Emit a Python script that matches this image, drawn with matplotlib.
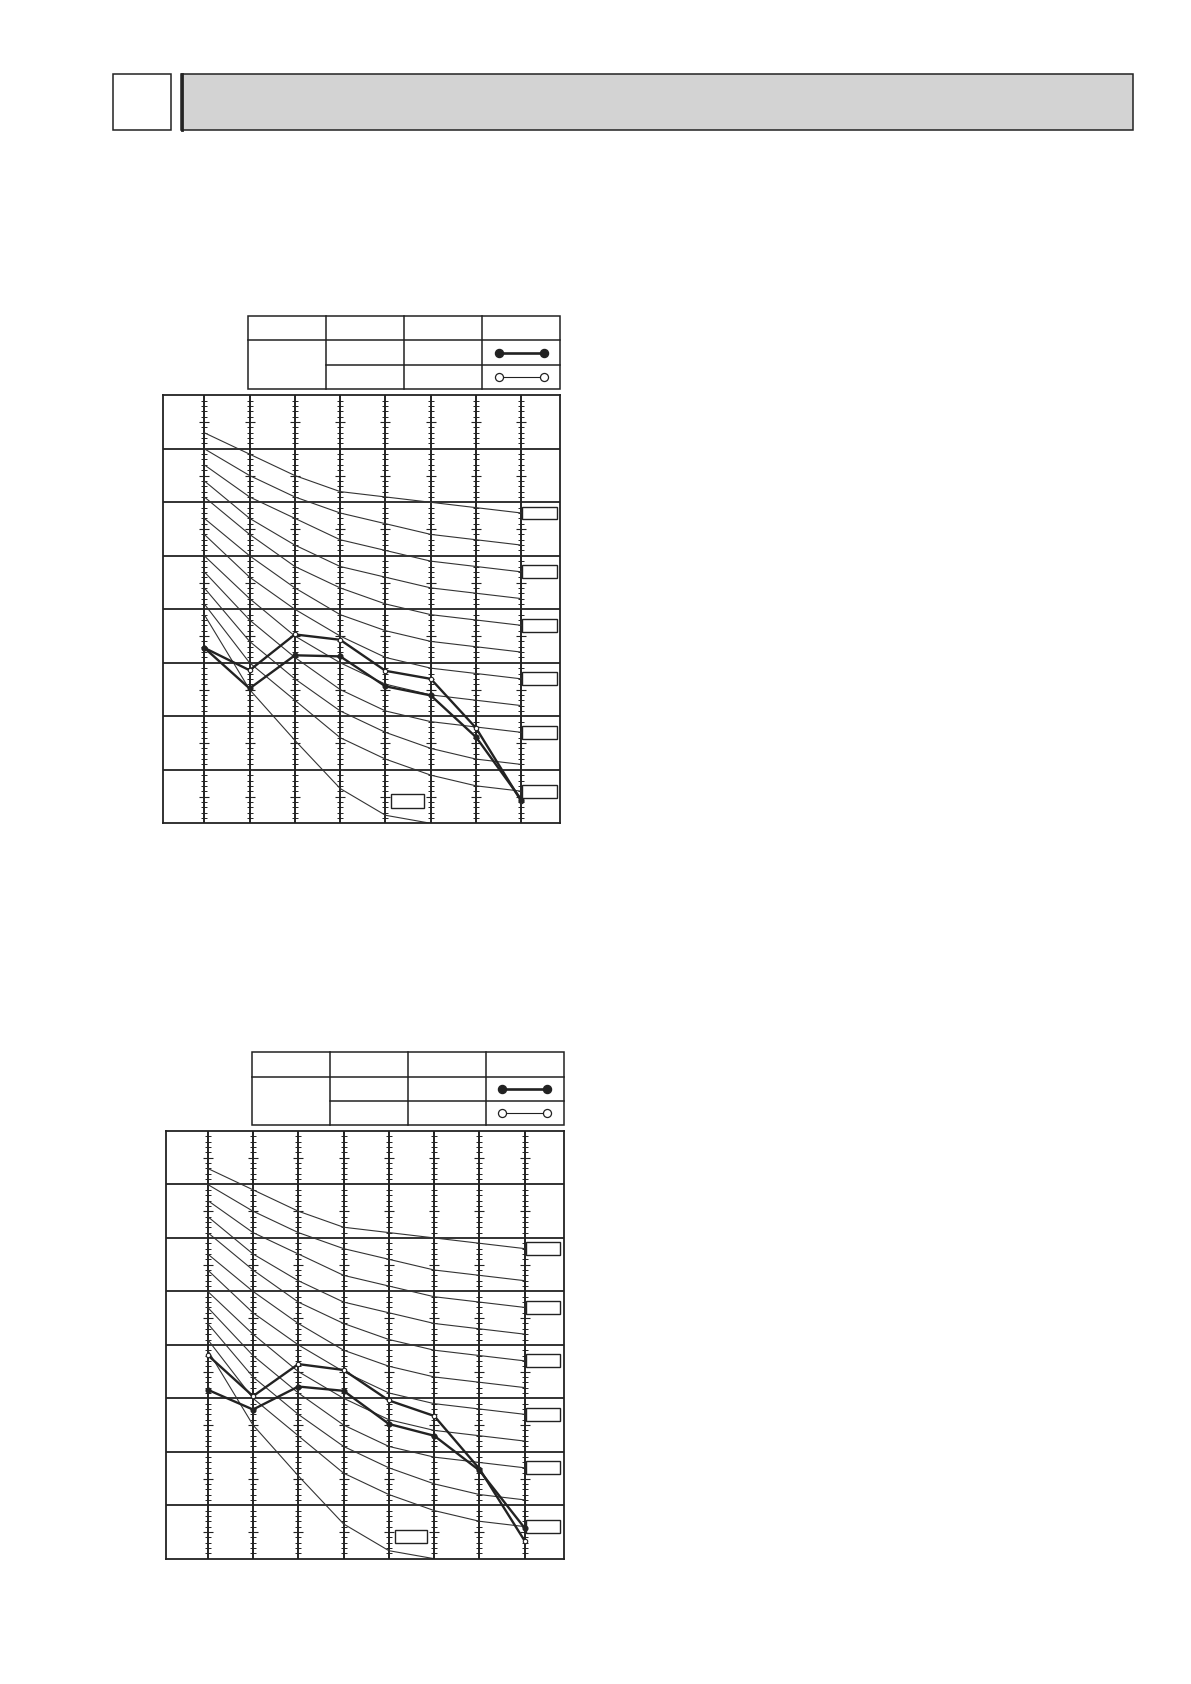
import matplotlib
matplotlib.use('Agg')
import matplotlib.pyplot as plt
from matplotlib.patches import Rectangle

W, H = 1191, 1684
ink = '#222222'

# octave bands (Hz)
bands = ['63', '125', '250', '500', '1k', '2k', '4k', '8k']

# NC reference curves, dB per band
nc_70 = [83, 79, 75, 72, 71, 70, 69, 68]
nc_65 = [80, 75, 71, 68, 66, 64, 63, 62]
nc_60 = [77, 71, 67, 63, 61, 59, 58, 57]
nc_55 = [74, 67, 62, 58, 56, 54, 53, 52]
nc_50 = [71, 64, 58, 54, 51, 49, 48, 47]
nc_45 = [67, 60, 54, 49, 46, 44, 43, 42]
nc_40 = [64, 56, 50, 45, 41, 39, 38, 37]
nc_35 = [60, 52, 45, 40, 36, 34, 33, 32]
nc_30 = [57, 48, 41, 35, 31, 29, 28, 27]
nc_25 = [54, 44, 37, 31, 27, 24, 22, 21]
nc_20 = [51, 40, 33, 26, 22, 19, 17, 16]
# approximate threshold of hearing (63..2k)
threshold = [49, 35, 25.5, 16.5, 11.5, 10]

nc_curves = [nc_70, nc_65, nc_60, nc_55, nc_50, nc_45,
             nc_40, nc_35, nc_30, nc_25, nc_20]
boxed = [nc_70, nc_60, nc_50, nc_40, nc_30, nc_20]

# measured levels
top_open = [42.8, 38.6, 45.3, 44.3, 38.5, 37.0, 27.8, 14.1]
top_filled = [42.8, 35.2, 41.4, 41.2, 35.6, 33.9, 26.1, 14.4]
bot_open = [48.1, 40.4, 46.4, 45.3, 39.6, 36.7, 26.8, 13.3]
bot_filled = [41.6, 37.9, 42.2, 41.4, 35.2, 33.0, 26.5, 15.7]


def px_rect(l, t, r, b):
    return [l / W, 1 - b / H, (r - l) / W, (b - t) / H]


def draw_chart(ax, xleft, open_vals, filled_vals):
    x = list(range(len(bands)))
    ax.set_xlim(xleft, 7.859)
    ax.set_ylim(10, 90)
    ax.set_xticks([])
    ax.set_yticks([])
    for s in ax.spines.values():
        s.set_linewidth(1.3)
        s.set_color(ink)
    for v in range(20, 90, 10):
        ax.axhline(v, color=ink, lw=1.3, zorder=1)
    small = [d for d in range(11, 90) if d % 5]
    big = [d for d in range(15, 90, 10)]
    for i in x:
        ax.axvline(i, color=ink, lw=1.4, zorder=1)
        ax.plot([i] * len(small), small, ls='none', marker='_', ms=3.8,
                mew=0.7, color=ink, zorder=1)
        ax.plot([i] * len(big), big, ls='none', marker='_', ms=7,
                mew=0.8, color=ink, zorder=1)
    for c in nc_curves:
        ax.plot(x, c, color='#333333', lw=0.8, zorder=2)
    ax.plot(x[:len(threshold)], threshold, color='#333333', lw=0.8, zorder=2)
    for c in boxed:
        ax.add_patch(Rectangle((7.02, c[-1] - 1.2), 0.76, 2.4, fc='white',
                               ec=ink, lw=1.0, zorder=3))
    ax.add_patch(Rectangle((4.13, 12.9), 0.72, 2.5, fc='white',
                           ec=ink, lw=1.0, zorder=3))
    ax.plot(x, open_vals, '-o', color=ink, lw=1.7, ms=3.2, mfc='white',
            mec=ink, mew=0.8, zorder=4)
    ax.plot(x, filled_vals, '-o', color=ink, lw=1.7, ms=3.4, mfc=ink,
            mec=ink, zorder=4)


def draw_table(ax, left, top, right, row_h):
    col_w = (right - left) / 4
    cols = [left + k * col_w for k in range(5)]
    bottom = top + 3 * row_h
    ax.add_patch(Rectangle((left, top), right - left, bottom - top,
                           fc='none', ec=ink, lw=1.1))
    ax.plot([left, right], [top + row_h] * 2, color=ink, lw=1.1)
    ax.plot([cols[1], right], [top + 2 * row_h] * 2, color=ink, lw=1.1)
    for c in cols[1:4]:
        ax.plot([c, c], [top, bottom], color=ink, lw=1.1)
    cx = cols[3] + col_w / 2
    y1 = top + 1.5 * row_h
    y2 = top + 2.5 * row_h
    ax.plot([cx - 22.6, cx + 22.6], [y1, y1], '-o', color=ink, lw=1.9,
            ms=5.8, mfc=ink, mec=ink)
    ax.plot([cx - 22.6, cx + 22.6], [y2, y2], '-o', color=ink, lw=0.8,
            ms=5.8, mfc='white', mec=ink, mew=0.9)


fig = plt.figure(figsize=(W / 100, H / 100), dpi=100)

page = fig.add_axes([0, 0, 1, 1])
page.set_xlim(0, W)
page.set_ylim(H, 0)
page.axis('off')

# header
page.add_patch(Rectangle((113.3, 74.3), 57.4, 56, fc='white', ec=ink, lw=1.1))
page.add_patch(Rectangle((181.3, 74.3), 952, 55.4, fc='#d3d3d3', ec=ink, lw=1.1))
page.plot([181.8, 181.8], [74.3, 129.7], color=ink, lw=2.0)

draw_table(page, 248.3, 316, 560.3, 24.4)
draw_table(page, 252.3, 1052.3, 563.7, 24.3)

ax1 = fig.add_axes(px_rect(163.3, 395.3, 560.3, 823.3))
draw_chart(ax1, -0.905, top_open, top_filled)

ax2 = fig.add_axes(px_rect(166.3, 1131, 563.7, 1558.7))
draw_chart(ax2, -0.914, bot_open, bot_filled)

fig.savefig('out.png', dpi=100)
